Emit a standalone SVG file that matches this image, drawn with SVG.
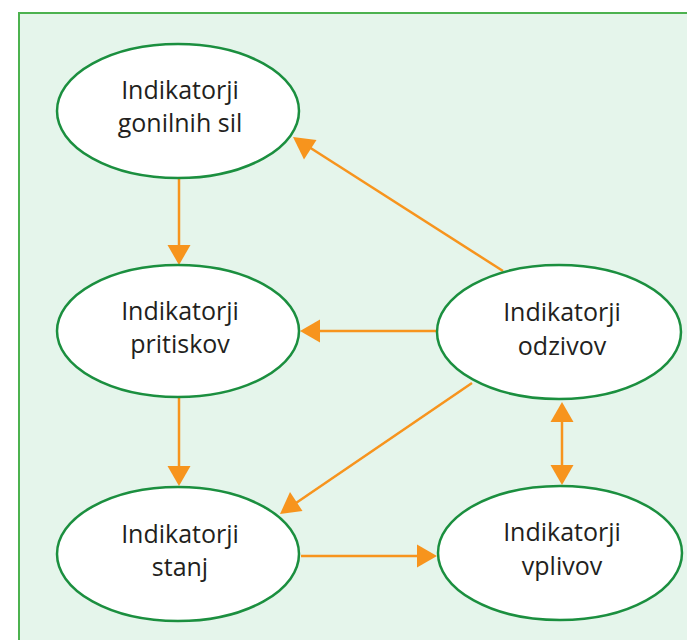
<svg xmlns="http://www.w3.org/2000/svg" width="687" height="640" viewBox="0 0 687 640">
<style>
.node ellipse{fill:#ffffff;stroke:#1b8f3f;stroke-width:2.5}
.node text{font-family:"Open Sans","Noto Sans",sans-serif;font-size:25px;fill:#231f20;text-anchor:middle}
.conn line{stroke:#f7941d;stroke-width:2.5;fill:none}
.conn path{fill:#f7941d}
</style>
<rect width="687" height="640" fill="#ffffff"/>
<rect x="19" y="13" width="700" height="660" fill="#e5f5eb" stroke="#4cb24f" stroke-width="2"/>
<g class="conn">
<line x1="179" y1="178" x2="179" y2="246"/>
<path d="M167.5,245 L190.5,245 L179,265 Z"/>
<line x1="179" y1="397" x2="179" y2="467"/>
<path d="M167.5,466 L190.5,466 L179,486 Z"/>
<line x1="503" y1="271" x2="309" y2="147"/>
<path d="M293,137 L316.5,140 L304,159.5 Z"/>
<line x1="437" y1="331" x2="318" y2="331"/>
<path d="M300,331 L320,319.5 L320,342.5 Z"/>
<line x1="472" y1="383" x2="296" y2="503"/>
<path d="M280,514 L290,492 L302.5,511 Z"/>
<line x1="301" y1="556" x2="418" y2="556"/>
<path d="M437,556 L417,544.5 L417,567.5 Z"/>
<line x1="562" y1="420" x2="562" y2="467"/>
<path d="M562,402 L573.5,422 L550.5,422 Z"/>
<path d="M562,485 L573.5,465 L550.5,465 Z"/>
</g>
<g id="gonilnih" class="node">
<ellipse cx="178" cy="111" rx="121" ry="67"/>
<text x="180" y="99">Indikatorji</text>
<text x="180" y="132">gonilnih sil</text>
</g>
<g id="pritiskov" class="node">
<ellipse cx="178" cy="331" rx="121" ry="66"/>
<text x="180" y="320">Indikatorji</text>
<text x="180" y="353">pritiskov</text>
</g>
<g id="stanj" class="node">
<ellipse cx="178" cy="554" rx="121" ry="67"/>
<text x="180" y="543">Indikatorji</text>
<text x="180" y="576">stanj</text>
</g>
<g id="odzivov" class="node">
<ellipse cx="559" cy="332" rx="122" ry="67"/>
<text x="562" y="321">Indikatorji</text>
<text x="562" y="355">odzivov</text>
</g>
<g id="vplivov" class="node">
<ellipse cx="560" cy="553" rx="122" ry="67"/>
<text x="562" y="541">Indikatorji</text>
<text x="562" y="575">vplivov</text>
</g>
</svg>
